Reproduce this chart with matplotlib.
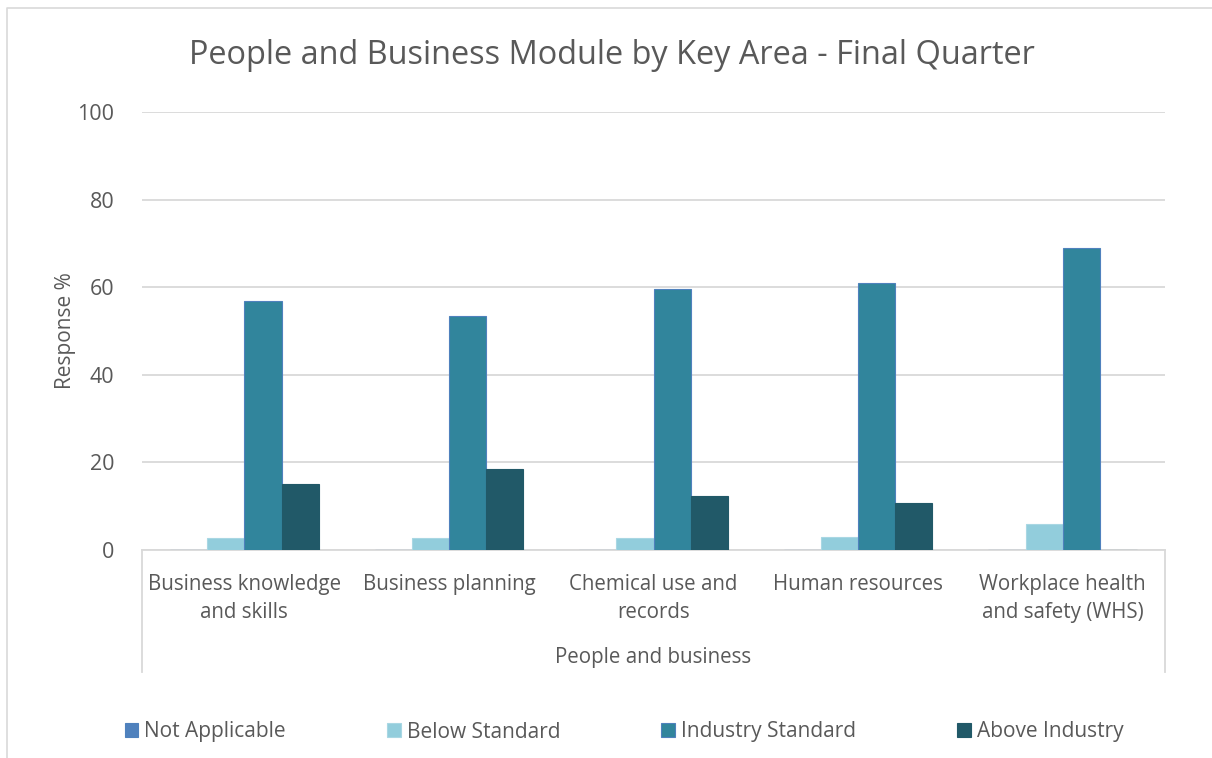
import numpy as np
import matplotlib.pyplot as plt
from matplotlib.lines import Line2D

plt.rcParams['font.family'] = ['Open Sans', 'DejaVu Sans']

# data
categories = [
    "Business knowledge\nand skills",
    "Business planning",
    "Chemical use and\nrecords",
    "Human resources",
    "Workplace health\nand safety (WHS)",
]
series_names = ["Not Applicable", "Below Standard", "Industry Standard", "Above Industry"]
not_applicable = [0, 0, 0, 0, 0]
below_standard = [2.7, 2.7, 2.7, 3.0, 5.9]
industry_standard = [56.9, 53.5, 59.6, 60.9, 69.0]
above_industry = [15.1, 18.4, 12.4, 10.8, 0]

colors = ["#4F81BD", "#92CDDC", "#31859C", "#215968"]
edges = ["#4F81BD", "#A9D7E3", "#4F81BD", "#215968"]
text_col = "#595959"
grid_col = "#D9D9D9"

fig = plt.figure(figsize=(12.12, 7.58), dpi=100)
ax = fig.add_axes([142 / 1212, 1 - 550 / 758, (1165 - 142) / 1212, (550 - 112) / 758])

x = np.arange(len(categories))
w = 1 / 5.5
all_series = [not_applicable, below_standard, industry_standard, above_industry]
for i, vals in enumerate(all_series):
    ax.bar(x + (i - 1.5) * w, vals, width=w, color=colors[i],
           edgecolor=edges[i], linewidth=0.8, label=series_names[i], zorder=3)

ax.set_xlim(-0.5, len(categories) - 0.5)
ax.set_ylim(0, 100)
ax.set_yticks(range(0, 101, 20))
ax.yaxis.grid(True, color=grid_col, linewidth=1.3, zorder=0)
ax.set_axisbelow(True)
for s in ["top", "right", "left"]:
    ax.spines[s].set_visible(False)
ax.spines["bottom"].set_color(grid_col)
ax.spines["bottom"].set_linewidth(1.3)

ax.tick_params(axis="y", length=0, pad=20, labelsize=15.5, labelcolor=text_col)
ax.set_xticks(x)
ax.set_xticklabels(categories, fontsize=14.8, color=text_col, linespacing=1.45)
ax.tick_params(axis="x", length=0, pad=17)

ax.set_ylabel("Response %", fontsize=15, color=text_col, labelpad=1)

# multi-level category axis: group label and divider lines
ax.text(0.5, -(658 - 550) / 438, "People and business", transform=ax.transAxes,
        ha="center", va="center", fontsize=14.8, color=text_col)
for xa in [0, 1]:
    ax.add_line(Line2D([xa, xa], [0, -(672 - 550) / 438], transform=ax.transAxes,
                       color=grid_col, linewidth=1.3, clip_on=False))

fig.text(0.505, 1 - 55 / 758, "People and Business Module by Key Area - Final Quarter",
         ha="center", va="center", fontsize=23.4, color=text_col)

leg = fig.legend(loc="center", bbox_to_anchor=(0.515, 1 - 732 / 758), ncol=4,
                 frameon=False, fontsize=15, handlelength=0.65, handleheight=0.65,
                 handletextpad=0.3, columnspacing=4.85)
for t in leg.get_texts():
    t.set_color(text_col)

# chart border (left and top edges are visible in the crop)
fig.add_artist(Line2D([7 / 1212, 7 / 1212, 1.0], [0.0, 1 - 8 / 758, 1 - 8 / 758],
                      transform=fig.transFigure, color=grid_col, linewidth=1.2))

fig.savefig("out.png", dpi=100)
